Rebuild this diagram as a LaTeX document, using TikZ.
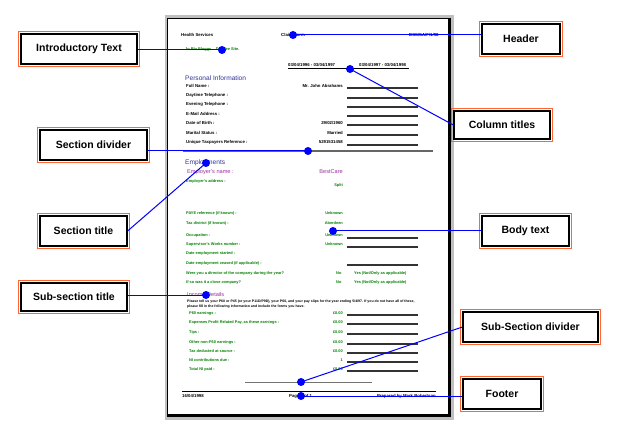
\documentclass[tikz,border=0pt]{standalone}
\usepackage{fontspec}
\setmainfont{Liberation Sans}
\definecolor{conblue}{RGB}{0,0,255}
\definecolor{oframe}{RGB}{255,102,51}
\definecolor{pagegrey}{RGB}{192,192,192}
\definecolor{secblue}{RGB}{51,51,153}
\definecolor{purp}{RGB}{153,51,153}
\definecolor{fgreen}{RGB}{0,128,0}
\begin{document}
\begin{tikzpicture}[x=1pt,y=-1pt,
  lbl/.style={draw=black, line width=1.2pt, fill=white, inner sep=0pt,
    font=\bfseries\fontsize{10.5}{12}\selectfont, minimum height=30pt},
  oframe/.style={draw=oframe, line width=1pt},
  conn/.style={draw=conblue, line width=1pt},
  marker/.style={circle, fill=conblue, inner sep=0pt, minimum size=8pt},
  tx/.style={inner sep=0pt, anchor=west, font=\bfseries\fontsize{4.3}{5}\selectfont},
  txr/.style={tx, anchor=east},
  gtx/.style={inner sep=0pt, anchor=west, text=fgreen, font=\bfseries\fontsize{3.9}{4.5}\selectfont},
  gtxr/.style={gtx, anchor=east},
  ptx/.style={inner sep=0pt, anchor=west, font=\bfseries\fontsize{3.5}{4.5}\selectfont},
  sect/.style={inner sep=0pt, anchor=west, text=secblue, font=\fontsize{6.6}{7}\selectfont},
  subsect/.style={inner sep=0pt, anchor=west, text=purp, font=\fontsize{5.6}{6}\selectfont},
  fline/.style={draw=black!80, line width=1.1pt}
]
\useasboundingbox (0,0) rectangle (618,430);
% ---------- page ----------
\fill[pagegrey] (165,15) rectangle (454,420);
\filldraw[fill=white, draw=black, line width=0.6pt] (167.5,18) rectangle (448,414);
\draw[line width=3pt] (449.5,18) -- (449.5,415.5) -- (167,415.5);
% header
\node[tx] (h1) at (181,35) {Health Services};
\node[tx] (h2) at (281,35) {Claim Form};
\node[tx] (h3) at (409,35) {DSS/SA/F/1/98};
\node[gtx] (intro1) at (185,50) {Jo Blo Bloggs \ \ \ Dundee Site.};
% column titles
\node[tx] (c1) at (288,64.5) {03/04/1996 - 03/04/1997};
\node[tx] (c2) at (359,64.5) {03/04/1997 - 03/04/1998};
\draw[draw=black, line width=1pt] (288,69) -- (409,69);
% personal information
\node[sect] (pi) at (185,78) {Personal Information};
\foreach \y/\t [count=\i] in {86/{Full Name :},95/{Daytime Telephone :},104/{Evening Telephone :},114/{E-Mail Address :},123/{Date of Birth :},133/{Marital Status :},142/{Unique Taxpayers Reference :}}
  \node[tx] (pf\i) at (186,\y) {\t};
\foreach \y/\t [count=\i] in {86/{Mr. John Abrahams},123/{29/02/1960},133/{Married},142/{5291531458}}
  \node[txr] (pv\i) at (343,\y) {\t};
\foreach \y in {88,98,107,116,125,135,145}
  \draw[fline] (347,\y) -- (418,\y);
% section divider
\draw[draw=black!60, line width=1.4pt] (183,151) -- (433,151);
% employments
\node[sect] (em) at (185,163) {Employments};
\node[subsect] (en) at (187,172) {Employer's name :};
\node[subsect, anchor=east] (ev) at (343,172) {BestCare};
\foreach \y/\t [count=\i] in {181/{Employer's address :},213/{PAYE reference (if known) :},223/{Tax district (if known) :},235/{Occupation :},244/{Supervisor's Works number :},253/{Date employment started :},263/{Date employment ceased (if applicable) :},273/{Were you a director of the company during the year?},282/{If so was it a close company?}}
  \node[gtx] (ef\i) at (186,\y) {\t};
\foreach \y/\t [count=\i] in {185/{Split},213/{Unknown},223/{Aberdeen},235/{Unknown},244/{Unknown}}
  \node[gtxr] (evl\i) at (343,\y) {\t};
\foreach \y [count=\i] in {273,282} {
  \node[gtx] (eno\i) at (336,\y) {No};
  \node[gtx] (eyes\i) at (354,\y) {Yes (Not/Only as applicable)};
}
\foreach \y in {238,247,265}
  \draw[fline] (347,\y) -- (418,\y);
% income details
\node[subsect] (inc) at (187,294) {Income Details};
\node[ptx] (p1) at (187,302) {Please tell us your P60 or P45 (or your P11D/P9D), your P60, and your pay slips for the year ending 5/4/97. If you do not have all of these,};
\node[ptx] (p2) at (187,307) {please fill in the following information and include the forms you have.};
\foreach \y/\t [count=\i] in {313/{P60 earnings :},322/{Expenses Profit Related Pay, as these earnings :},332/{Tips :},342/{Other non-P60 earnings :},351/{Tax deducted at source :},360/{NI contributions due :},369/{Total NI paid :}}
  \node[gtx] (if\i) at (189,\y) {\t};
\foreach \y/\t [count=\i] in {313/{£0.00},322/{£0.00},332/{£0.00},342/{£0.00},351/{£0.00},360/{1},369/{£0.00}}
  \node[gtxr] (iv\i) at (343,\y) {\t};
\foreach \y in {315,324,334,344,353,362,371}
  \draw[fline] (347,\y) -- (418,\y);
% sub-section divider and footer
\draw[draw=black!55, line width=1pt] (245,382) -- (372,382);
\draw[draw=black, line width=1pt] (182,391) -- (436,391);
\node[tx] (f1) at (182,396) {16/04/1998};
\node[tx] (f2) at (289,396) {Page 1 of 1};
\node[txr] (f3) at (436,396) {Prepared by Mark Robertson};
% ---------- markers ----------
\node[marker] (mh) at (293,35) {};
\node[marker] (mi) at (222,50) {};
\node[marker] (mc) at (350,69) {};
\node[marker] (md) at (308,151) {};
\node[marker] (ms) at (206,163) {};
\node[marker] (mss) at (206,295) {};
\node[marker] (mb) at (333,231) {};
\node[marker] (msd) at (301,382) {};
\node[marker] (mf) at (301,396) {};
% ---------- label boxes ----------
\node[lbl, minimum width=116pt] (intro) at (79,49) {Introductory Text};
\node[lbl, minimum width=107pt] (secdiv) at (93.5,145) {Section divider};
\node[lbl, minimum width=78pt] (header) at (521,39) {Header};
\node[lbl, minimum width=96pt, minimum height=28pt] (coltit) at (502,125) {Column titles};
\node[lbl, minimum width=87pt] (sectit) at (83.5,231) {Section title};
\node[lbl, minimum width=106pt, minimum height=28pt] (subtit) at (74,297) {Sub-section title};
\node[lbl, minimum width=87pt] (body) at (525.5,231) {Body text};
\node[lbl, minimum width=135pt] (subdiv) at (530.5,327) {Sub-Section divider};
\node[lbl, minimum width=78pt] (footer) at (502,394) {Footer};
\foreach \n in {intro,secdiv,header,coltit,sectit,subtit,body,subdiv,footer}
  \draw[oframe] ([xshift=-2pt,yshift=-2pt]\n.south west) rectangle ([xshift=2pt,yshift=2pt]\n.north east);
% ---------- connectors ----------
\draw[conn] (intro.east |- mi) -- (mi.center);
\draw[conn] (mh.center) -- (header.west |- mh);
\draw[conn] (mc.center) -- (coltit.west);
\draw[conn] (secdiv.east |- md) -- (md.center);
\draw[conn] (sectit.east) -- (ms.center);
\draw[conn] (subtit.east |- mss) -- (mss.center);
\draw[conn] (mb.center) -- (body.west |- mb);
\draw[conn] (msd.center) -- (subdiv.west);
\draw[conn] (mf.center) -- (footer.west |- mf);
\end{tikzpicture}
\end{document}
